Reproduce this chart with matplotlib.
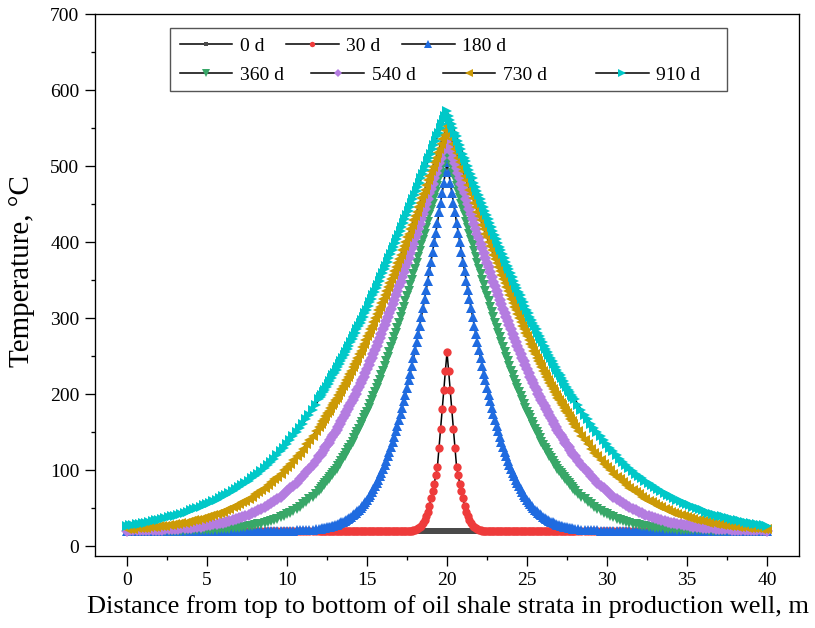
import numpy as np
import matplotlib
matplotlib.use("Agg")
import matplotlib.pyplot as plt
from matplotlib.patches import Rectangle

plt.rcParams['font.family'] = ['Liberation Serif', 'DejaVu Serif']

# Sampling positions along the well (m): 0.2 m spacing, 0.1 m close to the heater
x_m = np.round(np.concatenate([
    np.linspace(0.0, 11.8, 60),
    np.linspace(12.0, 28.0, 161),
    np.linspace(28.2, 40.0, 60),
]), 2)

days = ['0 d', '30 d', '180 d', '360 d', '540 d', '730 d', '910 d']

T_0d = [20.0] * len(x_m)

T_30d = ([20.0] * 110 + [
    20, 20, 20, 20, 20, 20.1, 20.2, 20.3, 20.5, 21, 21.5, 22.5, 23.5, 25, 27, 30,
    34, 39, 45, 53, 63, 72, 82, 93, 104, 129, 154, 180, 205, 231, 255,
    231, 205, 180, 154, 129, 104, 93, 82, 72, 63, 53, 45, 39, 34, 30, 27, 25,
    23.5, 22.5, 21.5, 21, 20.5, 20.3, 20.2, 20.1, 20, 20, 20, 20, 20,
] + [20.0] * 110)

T_180d = ([20.0] * 40 + [
    20, 20, 20, 20, 20.1, 20.1, 20.1, 20.1, 20.2, 20.2, 20.3, 20.3, 20.4, 20.6,
    20.7, 20.9, 21.2, 21.5, 21.8, 22.3,
    22.8, 23.1, 23.4, 23.8, 24.3, 24.7, 25.2, 25.7, 26.3, 27, 27.7, 28.4, 29.2,
    30.1, 31.1, 32.2, 33.3, 34.5, 35.8, 37.2, 38.7, 40.3, 42, 44, 46, 48, 50, 52.5,
    55, 58, 61, 64, 67.5, 71, 75, 79, 83, 87.5, 92, 96.5, 101, 106.5, 112, 118,
    124, 130.5, 137, 144, 151, 158.5,
    166, 174, 182, 191, 199, 208, 218, 227, 237, 247, 258, 268, 279, 290, 302, 313,
    325, 337, 349, 362, 374, 387, 400, 412, 425, 439, 452, 465, 478, 492, 505,
    492, 478, 465, 452, 439, 425, 412, 400, 387, 374, 362, 349, 337, 325, 313, 302,
    290, 279, 268, 258, 247, 237, 227, 218, 208, 199, 191, 182, 174, 166,
    158.5, 151, 144, 137, 130.5, 124, 118, 112, 106.5, 101, 96.5, 92, 87.5, 83, 79,
    75, 71, 67.5, 64, 61, 58, 55, 52.5, 50, 48, 46, 44, 42, 40.3, 38.7, 37.2, 35.8,
    34.5, 33.3, 32.2, 31.1, 30.1, 29.2, 28.4, 27.7, 27, 26.3, 25.7, 25.2, 24.7,
    24.3, 23.8, 23.4, 23.1, 22.8,
    22.3, 21.8, 21.5, 21.2, 20.9, 20.7, 20.6, 20.4, 20.3, 20.3, 20.2, 20.2, 20.1,
    20.1, 20.1, 20.1, 20, 20, 20, 20,
] + [20.0] * 40)

T_360d = [
    20, 20, 20, 20, 20.05, 20.05, 20.1, 20.1, 20.1, 20.1, 20.15, 20.2, 20.2, 20.2,
    20.25, 20.3, 20.35, 20.4, 20.5, 20.55, 20.6, 20.7, 20.9, 21, 21.1, 21.2, 21.4,
    21.6, 21.8, 22.1, 22.4, 22.7, 23, 23.4, 23.9, 24.4, 24.9, 25.5, 26.2, 26.9,
    27.7, 28.6, 29.6, 31, 32, 33, 34.7, 36, 38, 40, 42, 44, 46.5, 49, 52, 55, 58,
    61.5, 65, 69,
    73, 75.5, 78, 80.5, 83, 85.5, 88, 90.5, 93, 96, 99, 102, 105, 108.5, 112, 115.5,
    119, 122.5, 126, 129.5, 133, 137.5, 142, 146, 150, 154.5, 159, 163.5, 168,
    172.5, 177, 182, 187, 192.5, 198, 203, 208, 213.5, 219, 225, 231, 237, 243, 249,
    255, 261.5, 268, 274.5, 281, 287.5,
    294, 301, 308, 315, 322, 329, 336, 343, 350, 358, 365, 373, 380, 388, 396, 403,
    411, 419, 427, 435, 442, 450, 458, 466, 474, 483, 491, 499, 507, 515, 523,
    515, 507, 499, 491, 483, 474, 466, 458, 450, 442, 435, 427, 419, 411, 403, 396,
    388, 380, 373, 365, 358, 350, 343, 336, 329, 322, 315, 308, 301, 294,
    287.5, 281, 274.5, 268, 261.5, 255, 249, 243, 237, 231, 225, 219, 213.5, 208,
    203, 198, 192.5, 187, 182, 177, 172.5, 168, 163.5, 159, 154.5, 150, 146, 142,
    137.5, 133, 129.5, 126, 122.5, 119, 115.5, 112, 108.5, 105, 102, 99, 96, 93,
    90.5, 88, 85.5, 83, 80.5, 78, 75.5, 73,
    69, 65, 61.5, 58, 55, 52, 49, 46.5, 44, 42, 40, 38, 36, 34.7, 33, 32, 31, 29.6,
    28.6, 27.7,
    26.9, 26.2, 25.5, 24.9, 24.4, 23.9, 23.4, 23, 22.7, 22.4, 22.1, 21.8, 21.6,
    21.4, 21.2, 21.1, 21, 20.9, 20.7, 20.6, 20.55, 20.5, 20.4, 20.35, 20.3, 20.25,
    20.2, 20.2, 20.2, 20.15, 20.1, 20.1, 20.1, 20.1, 20.05, 20.05, 20, 20, 20, 20,
]

T_540d = [
    20.5, 20.6, 20.7, 20.75, 20.8, 20.9, 21, 21.2, 21.3, 21.5, 21.6, 21.8, 22, 22.2,
    22.4, 22.7, 23, 23.3, 23.6, 24, 24.4, 24.7, 25, 25.7, 26.5, 27.2, 28, 28.5, 29,
    30, 31, 32, 33, 34.2, 35.5, 36.7, 38, 39.7, 41.5, 43.2,
    45, 47, 49, 52, 54, 57, 59, 62, 65, 69, 72, 76, 79, 83, 88, 92, 97, 101, 107,
    112,
    118, 120.5, 123, 126.5, 130, 133, 136, 139.5, 143, 146, 149, 153, 157, 160.5,
    164, 168, 172, 176, 180, 184, 188, 192, 196, 200.5, 205, 209.5, 214, 218.5, 223,
    228, 233, 238, 243, 248, 253, 258, 263, 268.5, 274, 279.5, 285, 290.5, 296,
    301.5, 307, 312.5, 318, 324, 330, 336,
    342, 348, 354, 361, 367, 373, 379, 385, 392, 398, 405, 411, 417, 424, 430, 437,
    444, 450, 457, 464, 470, 477, 484, 491, 497, 504, 511, 518, 524, 531, 538,
    531, 524, 518, 511, 504, 497, 491, 484, 477, 470, 464, 457, 450, 444, 437, 430,
    424, 417, 411, 405, 398, 392, 385, 379, 373, 367, 361, 354, 348, 342,
    336, 330, 324, 318, 312.5, 307, 301.5, 296, 290.5, 285, 279.5, 274, 268.5, 263,
    258, 253, 248, 243, 238, 233, 228, 223, 218.5, 214, 209.5, 205, 200.5, 196, 192,
    188, 184, 180, 176, 172, 168, 164, 160.5, 157, 153, 149, 146, 143, 139.5, 136,
    133, 130, 126.5, 123, 120.5, 118,
    112, 107, 101, 97, 92, 88, 83, 79, 76, 72, 69, 65, 62, 59, 57, 54, 52, 49, 47,
    45,
    43.2, 41.5, 39.7, 38, 36.7, 35.5, 34.2, 33, 32, 31, 30, 29, 28.5, 28, 27.2, 26.5,
    25.7, 25, 24.7, 24.4, 24, 23.6, 23.3, 23, 22.7, 22.4, 22.2, 22, 21.8, 21.6, 21.5,
    21.3, 21.2, 21, 20.9, 20.8, 20.75, 20.7, 20.6, 20.5,
]

T_730d = [
    22.5, 22.7, 23, 23.2, 23.5, 23.7, 24, 24.5, 25, 25.5, 26, 26.5, 27, 27.5, 28,
    28.5, 29, 30, 31, 32, 33, 34, 35, 36, 37, 38.2, 39.5, 40.7, 42, 43.5, 45, 47, 49,
    51, 53, 55.5, 58, 60, 62, 65,
    68, 71, 74, 77, 80, 84, 88, 91, 95, 100, 104, 108, 113, 118, 123, 128, 134, 139,
    145, 151,
    157, 160.5, 164, 167.5, 171, 174.5, 178, 181.5, 185, 188.5, 192, 195.5, 199,
    203, 207, 211, 215, 219, 223, 227, 231, 235.5, 240, 244, 248, 252.5, 257, 261.5,
    266, 271, 276, 280.5, 285, 290, 295, 300, 305, 310, 315, 320, 325, 330, 335,
    340.5, 346, 351, 356, 361.5, 367, 372.5,
    378, 383, 389, 395, 400, 406, 411, 417, 423, 429, 434, 440, 446, 452, 458, 463,
    469, 475, 481, 487, 493, 499, 505, 511, 517, 523, 529, 535, 541, 547, 553,
    547, 541, 535, 529, 523, 517, 511, 505, 499, 493, 487, 481, 475, 469, 463, 458,
    452, 446, 440, 434, 429, 423, 417, 411, 406, 400, 395, 389, 383, 378,
    372.5, 367, 361.5, 356, 351, 346, 340.5, 335, 330, 325, 320, 315, 310, 305, 300,
    295, 290, 285, 280.5, 276, 271, 266, 261.5, 257, 252.5, 248, 244, 240, 235.5,
    231, 227, 223, 219, 215, 211, 207, 203, 199, 195.5, 192, 188.5, 185, 181.5, 178,
    174.5, 171, 167.5, 164, 160.5, 157,
    151, 145, 139, 134, 128, 123, 118, 113, 108, 104, 100, 95, 91, 88, 84, 80, 77,
    74, 71, 68,
    65, 62, 60, 58, 55.5, 53, 51, 49, 47, 45, 43.5, 42, 40.7, 39.5, 38.2, 37, 36, 35,
    34, 33, 32, 31, 30, 29, 28.5, 28, 27.5, 27, 26.5, 26, 25.5, 25, 24.5, 24, 23.7,
    23.5, 23.2, 23, 22.7, 22.5,
]

T_910d = [
    26.5, 27.2, 28, 28.7, 29.5, 30.2, 31, 32, 33, 34, 35, 36, 37, 38, 39, 40.2, 41.5,
    42.7, 44, 45.5, 47, 48.5, 50, 51.7, 53.5, 55.2, 57, 59, 61, 63.2, 65.5, 67.7, 70,
    72.5, 75, 77.5, 80, 83, 86, 89,
    92, 95, 99, 103, 107, 111, 115, 120, 125, 129, 134, 139, 145, 150, 156, 161, 167,
    173, 179, 186,
    193, 196, 199, 202.5, 206, 209.5, 213, 217, 221, 224.5, 228, 232, 236, 239.5,
    243, 247, 251, 255, 259, 263.5, 268, 272, 276, 280.5, 285, 289.5, 294, 298, 302,
    306.5, 311, 316, 321, 325.5, 330, 334.5, 339, 344, 349, 354, 359, 364, 369, 374,
    379, 384, 389, 394, 399, 404,
    409, 414, 420, 425, 430, 435, 441, 446, 451, 457, 462, 467, 473, 478, 484, 489,
    495, 500, 506, 511, 516, 522, 528, 533, 539, 544, 550, 555, 561, 566, 572,
    566, 561, 555, 550, 544, 539, 533, 528, 522, 516, 511, 506, 500, 495, 489, 484,
    478, 473, 467, 462, 457, 451, 446, 441, 435, 430, 425, 420, 414, 409,
    404, 399, 394, 389, 384, 379, 374, 369, 364, 359, 354, 349, 344, 339, 334.5, 330,
    325.5, 321, 316, 311, 306.5, 302, 298, 294, 289.5, 285, 280.5, 276, 272, 268,
    263.5, 259, 255, 251, 247, 243, 239.5, 236, 232, 228, 224.5, 221, 217, 213,
    209.5, 206, 202.5, 199, 196, 193,
    186, 179, 173, 167, 161, 156, 150, 145, 139, 134, 129, 125, 120, 115, 111, 107,
    103, 99, 95, 92,
    89, 86, 83, 80, 77.5, 75, 72.5, 70, 67.7, 65.5, 63.2, 61, 59, 57, 55.2, 53.5,
    51.7, 50, 48.5, 47, 45.5, 44, 42.7, 41.5, 40.2, 39, 38, 37, 36, 35, 34, 33, 32,
    31, 30.2, 29.5, 28.7, 28, 27.2, 26.5,
]

series = [T_0d, T_30d, T_180d, T_360d, T_540d, T_730d, T_910d]
for s in series:
    assert len(s) == len(x_m), len(s)

colors = ['#4a4a4a', '#ee3b3b', '#1f6be0', '#38a768', '#b47ce0', '#cc9a06', '#00c8c8']
markers = ['s', 'o', '^', 'v', 'D', '<', '>']
msizes = [4.6, 6.0, 7.8, 7.8, 6.4, 7.8, 7.8]

fig = plt.figure(figsize=(8.15, 6.28), dpi=100)
ax = fig.add_axes([95 / 815, 1 - 556 / 628, 704 / 815, 542 / 628])

handles = []
for T, c, m, ms, lab in zip(series, colors, markers, msizes, days):
    h, = ax.plot(x_m, T, color='black', lw=1.1, marker=m, ms=ms,
                 mfc=c, mec=c, mew=0.0, label=lab)
    handles.append(h)

ax.set_xlim(-2, 42)
ax.set_ylim(-13, 700)
ax.set_xticks(np.arange(0, 41, 5))
ax.set_xticks(np.arange(2.5, 40, 5), minor=True)
ax.set_yticks(np.arange(0, 701, 100))
ax.set_yticks(np.arange(50, 700, 100), minor=True)
ax.tick_params(which='both', direction='out', top=False, right=False,
               labelsize=14, width=0.95, colors='black')
ax.tick_params(which='major', length=7.2, pad=4)
ax.tick_params(which='minor', length=3.2)
for sp in ax.spines.values():
    sp.set_linewidth(0.95)

fig.text(448 / 815, 1 - 607 / 628,
         'Distance from top to bottom of oil shale strata in production well, m',
         ha='center', va='center', fontsize=19)
fig.text(22 / 815, 1 - 271 / 628, 'Temperature, \u00b0C', rotation=90,
         ha='center', va='center', fontsize=21)

# Legend: two rows inside one frame
leg_kw = dict(frameon=False, fontsize=14, handlelength=2.7, handletextpad=0.4,
              borderpad=0.0, borderaxespad=0.0, markerscale=0.65, numpoints=1,
              loc='upper left')
leg1 = ax.legend(handles[:3], days[:3], ncol=3, columnspacing=1.1,
                 bbox_to_anchor=(0.1207, 0.957), **leg_kw)
ax.add_artist(leg1)
leg2 = ax.legend(handles[3:6], days[3:6], ncol=3, columnspacing=1.4,
                 bbox_to_anchor=(0.1207, 0.903), **leg_kw)
ax.add_artist(leg2)
leg3 = ax.legend(handles[6:], days[6:],
                 bbox_to_anchor=((596 - 95) / 704, 0.903), **leg_kw)
ax.add_patch(Rectangle((0.1065, 0.8579), 0.7912, 0.1163, transform=ax.transAxes,
                       fill=False, edgecolor='#555555', lw=1.0, zorder=5))

fig.savefig('out.png', dpi=100)
